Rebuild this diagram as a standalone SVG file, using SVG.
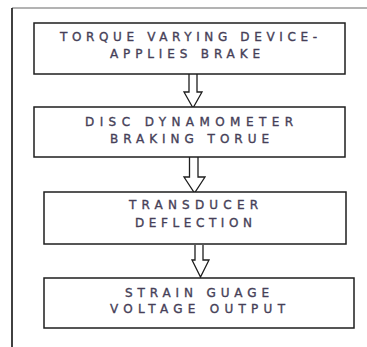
<svg xmlns="http://www.w3.org/2000/svg" width="367" height="347" viewBox="0 0 367 347">
<style>
.box{fill:#fff;stroke:#1e1e1e;stroke-width:1.5}
.lbl{font-family:"DejaVu Sans",Verdana,sans-serif;font-size:12px;fill:#463f58;stroke:#463f58;stroke-width:0.35}
.arr{fill:#fff;stroke:#1e1e1e;stroke-width:1.3;stroke-linejoin:miter}
</style>
<rect width="367" height="347" fill="#fff"/>
<g id="frame">
<line x1="12" y1="8" x2="367" y2="8" stroke="#9a9a9a" stroke-width="1.5"/>
<line x1="12" y1="8" x2="12" y2="347" stroke="#111" stroke-width="1.6"/>
</g>
<g id="connectors">
<path class="arr" d="M189,74 V92 H184 L193,108 L202,92 H197 V74"/>
<path class="arr" d="M189.5,157 V177 H184 L194.5,193 L205,177 H198 V157"/>
<path class="arr" d="M195,245 V260 H192 L200.5,277 L209,260 H203 V245"/>
</g>
<g id="n1">
<rect class="box" x="34" y="23" width="311" height="51"/>
<text class="lbl" x="60" y="41" textLength="257" lengthAdjust="spacing">TORQUE VARYING DEVICE-</text>
<text class="lbl" x="110" y="57.5" textLength="150" lengthAdjust="spacing">APPLIES BRAKE</text>
</g>
<g id="n2">
<rect class="box" x="34" y="107" width="311" height="50"/>
<text class="lbl" x="85" y="126" textLength="208" lengthAdjust="spacing">DISC DYNAMOMETER</text>
<text class="lbl" x="110" y="142.5" textLength="159" lengthAdjust="spacing">BRAKING TORUE</text>
</g>
<g id="n3">
<rect class="box" x="44" y="192" width="302" height="52"/>
<text class="lbl" x="129" y="209" textLength="129" lengthAdjust="spacing">TRANSDUCER</text>
<text class="lbl" x="135" y="226.5" textLength="117" lengthAdjust="spacing">DEFLECTION</text>
</g>
<g id="n4">
<rect class="box" x="44" y="278" width="310" height="50"/>
<text class="lbl" x="125" y="297" textLength="144" lengthAdjust="spacing">STRAIN GUAGE</text>
<text class="lbl" x="110" y="313" textLength="175" lengthAdjust="spacing">VOLTAGE OUTPUT</text>
</g>
</svg>
